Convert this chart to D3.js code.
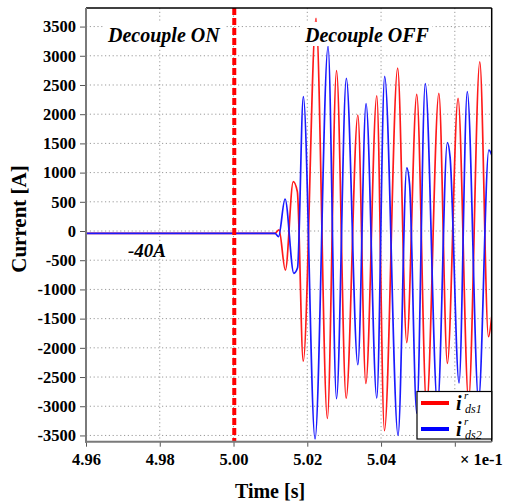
<!DOCTYPE html>
<html>
<head>
<meta charset="utf-8">
<script src="https://cdn.jsdelivr.net/npm/d3@7"></script>
<style>
  body { margin: 0; background: #fff; }
  svg text { font-family: "Liberation Serif", "Times New Roman", serif; }
</style>
</head>
<body>
<div id="chart"></div>
<script>
// time [x1e-1 s] and current [A], read at the extrema of each trace
var tRed = [4.96, 5.01125, 5.01234, 5.01405, 5.01619, 5.01730, 5.01890, 5.02237, 5.02544, 5.02793,
            5.03054, 5.03371, 5.03588, 5.03884, 5.04092, 5.04450, 5.04697, 5.04968, 5.05234, 5.05568,
            5.05798, 5.06088, 5.06373, 5.06677, 5.06912, 5.0700];
var iRed = [-40, -40, 20, -670, 844, 673, -2230, 3640, -3210, 2745,
            -2864, 1986, -2610, 2316, -3418, 2790, -1910, 2340, -3000, 2357,
            -2265, 2272, -2900, 2898, -1810, -1470];

var tBlue = [4.96, 5.01125, 5.01220, 5.01397, 5.01635, 5.01736, 5.01893, 5.02210, 5.02563, 5.02793,
             5.03059, 5.03371, 5.03593, 5.03884, 5.04098, 5.04461, 5.04697, 5.04773, 5.04968, 5.05199,
             5.05532, 5.05798, 5.05871, 5.06115, 5.06338, 5.06644, 5.06923, 5.0700];
var iBlue = [-40, -40, -95, 548, -724, -630, 2300, -3560, 3160, -2870,
             2614, -2290, 2180, -2860, 2648, -3500, 1080, 800, -3120, 2525,
             -3000, 1515, 1270, -2600, 2385, -2900, 1387, 1300];

var xTicks = [4.96, 4.98, 5.00, 5.02, 5.04, 5.06];
var yTicks = d3.range(-3500, 3501, 500);
var tSwitch = 5.0002;

var width = 509, height = 504;
var mLeft = 86, mTop = 8, mRight = 491.7, mBottom = 441.7;
var serif = "'Liberation Serif', 'Times New Roman', serif";

var svg = d3.select("#chart").append("svg")
    .attr("width", width)
    .attr("height", height);

var x = d3.scaleLinear().domain([4.96, 5.07]).range([mLeft, mRight]);
var y = d3.scaleLinear().domain([-3607, 3818]).range([mBottom, mTop]);

svg.append("defs").append("clipPath").attr("id", "plot")
    .append("rect")
    .attr("x", mLeft).attr("y", mTop)
    .attr("width", mRight - mLeft).attr("height", mBottom - mTop);

// dotted grid
svg.selectAll("line.gy")
    .data(yTicks)
    .enter().append("line")
    .attr("x1", mLeft).attr("x2", mRight)
    .attr("y1", d => y(d)).attr("y2", d => y(d))
    .style("stroke", "#9a9a9a")
    .style("stroke-dasharray", "1.2,2.6");

svg.selectAll("line.gx")
    .data(xTicks.slice(1))
    .enter().append("line")
    .attr("x1", d => x(d)).attr("x2", d => x(d))
    .attr("y1", mTop).attr("y2", mBottom)
    .style("stroke", "#9a9a9a")
    .style("stroke-dasharray", "1.2,2.6");

// traces
var line = d3.line()
    .x(d => x(d[0]))
    .y(d => y(d[1]))
    .curve(d3.curveMonotoneX);

var g = svg.append("g").attr("clip-path", "url(#plot)");

g.append("path")
    .datum(d3.zip(tRed, iRed))
    .attr("d", line)
    .style("fill", "none")
    .style("stroke", "#ff1a1a")
    .style("stroke-width", 1.7);

g.append("path")
    .datum(d3.zip(tBlue, iBlue))
    .attr("d", line)
    .style("fill", "none")
    .style("stroke", "#1a1aff")
    .style("stroke-width", 1.7);

// decouple switch instant
svg.append("line")
    .attr("x1", x(tSwitch)).attr("x2", x(tSwitch))
    .attr("y1", mTop).attr("y2", mBottom)
    .style("stroke", "#ff0000")
    .style("stroke-width", 4)
    .style("stroke-dasharray", "7,3");

// annotations with white boxes
function note(txt, px, py) {
    var t = svg.append("text")
        .attr("x", px).attr("y", py)
        .style("font-family", serif)
        .style("font-size", "20px")
        .style("font-weight", "bold")
        .style("font-style", "italic")
        .style("fill", "#000")
        .text(txt);
    var b = t.node().getBBox();
    svg.insert("rect", function () { return t.node(); })
        .attr("x", b.x - 3).attr("y", 22)
        .attr("width", b.width + 6).attr("height", 24)
        .style("fill", "#fff");
}
note("Decouple ON", 108, 42);
note("Decouple OFF", 305, 42);

svg.append("text")
    .attr("x", 128).attr("y", 257)
    .style("font-family", serif)
    .style("font-size", "19px")
    .style("font-weight", "bold")
    .style("font-style", "italic")
    .text("-40A");

// axes
var yAxis = svg.append("g")
    .attr("transform", "translate(" + mLeft + ",0)")
    .call(d3.axisLeft(y).tickValues(yTicks).tickSize(6).tickPadding(4).tickFormat(d => String(d)));

var xAxis = svg.append("g")
    .attr("transform", "translate(0," + mBottom + ")")
    .call(d3.axisBottom(x).tickValues(xTicks).tickSize(5).tickPadding(7)
        .tickFormat(d => Math.abs(d - 5.06) < 1e-6 ? "" : d.toFixed(2)));

[yAxis, xAxis].forEach(function (a) {
    a.attr("font-family", serif).attr("font-size", 16.5).attr("font-weight", "bold");
    a.select(".domain").remove();
    a.selectAll("line").style("stroke", "#555");
    a.selectAll("text").style("fill", "#000");
});

// frame: grey left/bottom, black top/right
svg.append("line").attr("x1", mLeft).attr("x2", mRight).attr("y1", mTop).attr("y2", mTop)
    .style("stroke", "#000").style("stroke-width", 1.5);
svg.append("line").attr("x1", mRight).attr("x2", mRight).attr("y1", mTop).attr("y2", mBottom)
    .style("stroke", "#000").style("stroke-width", 1.5);
svg.append("line").attr("x1", mLeft).attr("x2", mLeft).attr("y1", mTop).attr("y2", mBottom + 1)
    .style("stroke", "#7a7a7a").style("stroke-width", 2);
svg.append("line").attr("x1", mLeft - 1).attr("x2", mRight).attr("y1", mBottom).attr("y2", mBottom)
    .style("stroke", "#7a7a7a").style("stroke-width", 2);

svg.append("text")
    .attr("x", 460).attr("y", 465)
    .style("font-family", serif)
    .style("font-size", "16.5px")
    .style("font-weight", "bold")
    .text("× 1e-1");

// axis titles
svg.append("text")
    .attr("transform", "translate(26,219) rotate(-90)")
    .style("font-family", serif)
    .style("text-anchor", "middle")
    .style("font-size", "21px")
    .style("font-weight", "bold")
    .text("Current [A]");

svg.append("text")
    .attr("x", 270).attr("y", 498)
    .style("font-family", serif)
    .style("text-anchor", "middle")
    .style("font-size", "20px")
    .style("font-weight", "bold")
    .text("Time [s]");

// legend
var legend = [
    { sub: "ds1", color: "#ff0000" },
    { sub: "ds2", color: "#0000ff" }
];
svg.append("rect")
    .attr("x", 417).attr("y", 391.5)
    .attr("width", mRight - 417).attr("height", 47.5)
    .style("fill", "#fff")
    .style("stroke", "#000")
    .style("stroke-width", 1.2);

legend.forEach(function (d, i) {
    var yy = 403 + i * 26;
    svg.append("line")
        .attr("x1", 421).attr("x2", 449)
        .attr("y1", yy).attr("y2", yy)
        .style("stroke", d.color)
        .style("stroke-width", 4);
    svg.append("text")
        .attr("x", 456).attr("y", yy + 7)
        .style("font-family", serif)
        .style("font-size", "20px")
        .style("font-weight", "bold")
        .style("font-style", "italic")
        .text("i");
    svg.append("text")
        .attr("x", 464).attr("y", yy - 4)
        .style("font-family", serif)
        .style("font-size", "11px")
        .style("font-style", "italic")
        .text("r");
    svg.append("text")
        .attr("x", 465).attr("y", yy + 10)
        .style("font-family", serif)
        .style("font-size", "12px")
        .style("font-style", "italic")
        .text(d.sub);
});
</script>
</body>
</html>
